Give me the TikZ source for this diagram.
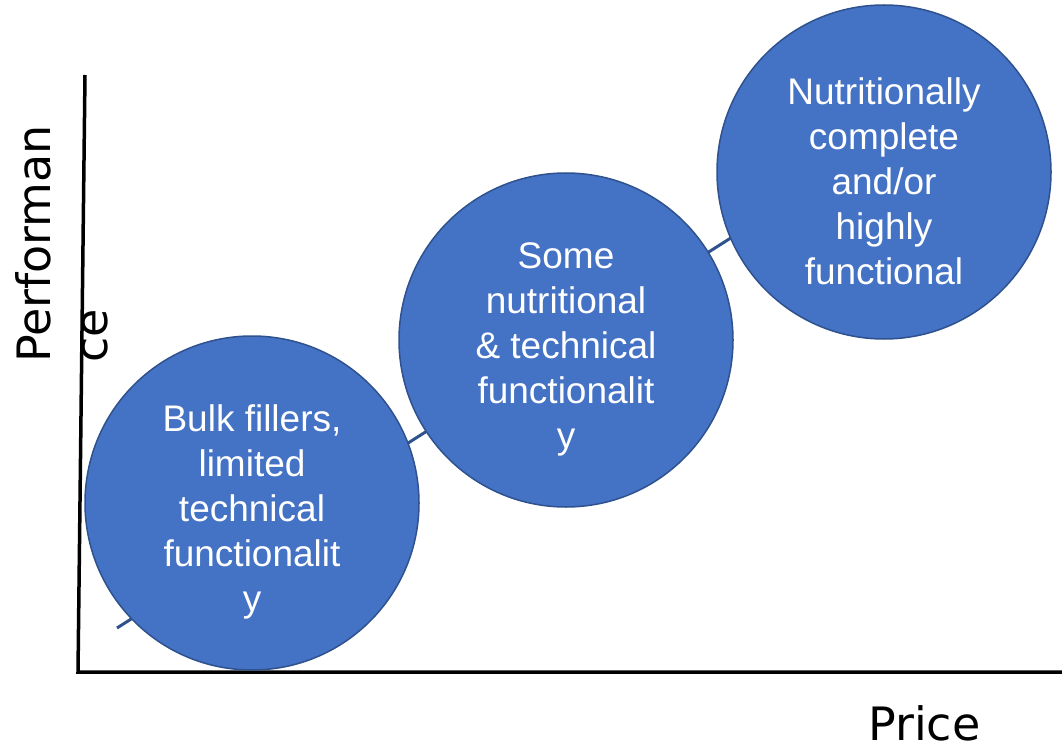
\documentclass[tikz,border=0pt]{standalone}
\usepackage{fontspec}
\setmainfont{Liberation Sans}
\newfontfamily\axisfont{DejaVu Sans}
\definecolor{bubblefill}{HTML}{4472C4}
\definecolor{bubbleedge}{HTML}{2F528F}
\tikzset{
  bubble/.style={circle, draw=bubbleedge, line width=1.5pt, fill=bubblefill,
    minimum size=334pt, inner sep=0pt},
  bubbletext/.style={inner sep=0pt, text=white, align=center, yshift=-9pt,
    font=\fontsize{37}{45}\selectfont},
  axislabel/.style={inner sep=0pt, font=\axisfont\fontsize{46}{57}\selectfont}
}

\begin{document}
\begin{tikzpicture}[x=1pt,y=1pt]
		%%%%% START %%%%%
		\useasboundingbox (0,0) rectangle (1062,-746);
		
		% axes
		\draw[line width=3.5pt] (85,-75) -- (78,-672) -- (1062,-672);
		\node[axislabel, rotate=90, anchor=north west, align=left] (perf) at (15,-363) {Performan\\ce};
		\node[axislabel, anchor=base west] (price) at (868,-740) {Price};
		
		% trend line, under the bubbles
		\coordinate (trendA) at (117,-628);
		\coordinate (trendB) at (800,-194);
		\draw[line width=3pt, bubbleedge] (trendA) -- (trendB);
		
		% bubbles
		\node[bubble] (low) at (252,-503) {};
		\node[bubble] (mid) at (566,-340) {};
		\node[bubble] (high) at (884,-172) {};
		\node[bubbletext] (lowtext) at (low.center) {Bulk fillers,\\limited\\technical\\functionalit\\y};
		\node[bubbletext] (midtext) at (mid.center) {Some\\nutritional\\\& technical\\functionalit\\y};
		\node[bubbletext] (hightext) at (high.center) {Nutritionally\\complete\\and/or\\highly\\functional};
		
		%%%%% END %%%%%
\end{tikzpicture}
\end{document}
